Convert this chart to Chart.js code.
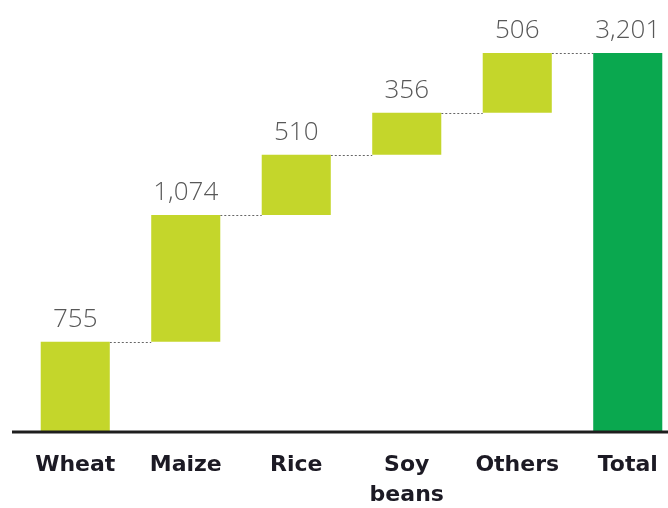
<!DOCTYPE html>
<html>
<head>
<meta charset="utf-8">
<script src="https://cdn.jsdelivr.net/npm/chart.js@4"></script>
<style>
  html, body { margin: 0; padding: 0; background: #fff; overflow: hidden; }
  #wrap { position: absolute; left: 0; top: 0; width: 684px; height: 508px; }
</style>
</head>
<body>
<div id="wrap"><canvas id="myChart"></canvas></div>
<script>
// data
const categories = [["Wheat"], ["Maize"], ["Rice"], ["Soy", "beans"], ["Others"], ["Total"]];
const values = [755, 1074, 510, 356, 506, 3201];
const isTotal = [false, false, false, false, false, true];

// floating bars: each step starts where the previous one ended
var running = 0;
var floating = values.map(function (v, i) {
  if (isTotal[i]) return [0, v];
  var seg = [running, running + v];
  running += v;
  return seg;
});

var stepColor = "#c4d62b";
var totalColor = "#0aa84f";

// value labels above bars
var valueLabels = {
  id: "valueLabels",
  afterDatasetsDraw: function (chart) {
    var ctx = chart.ctx;
    var meta = chart.getDatasetMeta(0);
    ctx.save();
    ctx.font = "300 26px 'Open Sans', 'Lato', sans-serif";
    ctx.fillStyle = "#585858";
    ctx.textAlign = "center";
    ctx.textBaseline = "alphabetic";
    meta.data.forEach(function (bar, i) {
      ctx.fillText(values[i].toLocaleString("en-US"), bar.x, bar.y - 15);
    });
    ctx.restore();
  },
};

// dotted connectors between bar tops + heavy baseline
var connectors = {
  id: "connectors",
  beforeDatasetsDraw: function (chart) {
    var ctx = chart.ctx;
    var meta = chart.getDatasetMeta(0);
    var y = chart.scales.y;
    ctx.save();
    ctx.strokeStyle = "#666666";
    ctx.lineWidth = 1;
    ctx.setLineDash([2, 2]);
    for (var i = 0; i < meta.data.length - 1; i++) {
      var a = meta.data[i], b = meta.data[i + 1];
      var py = Math.round(y.getPixelForValue(floating[i][1])) + 0.5;
      ctx.beginPath();
      ctx.moveTo(a.x + a.width / 2, py);
      ctx.lineTo(b.x - b.width / 2, py);
      ctx.stroke();
    }
    ctx.restore();
  },
  afterDatasetsDraw: function (chart) {
    var ctx = chart.ctx;
    var py = chart.scales.y.getPixelForValue(0) + 1;
    ctx.save();
    ctx.strokeStyle = "#1e1e1e";
    ctx.lineWidth = 3;
    ctx.beginPath();
    ctx.moveTo(12, py);
    ctx.lineTo(chart.width, py);
    ctx.stroke();
    ctx.restore();
  },
};

var ctx = document.getElementById("myChart").getContext("2d");
var myChart = new Chart(ctx, {
  type: "bar",
  data: {
    labels: categories,
    datasets: [
      {
        data: floating,
        backgroundColor: isTotal.map(function (t) { return t ? totalColor : stepColor; }),
        borderWidth: 0,
        borderSkipped: false,
        barPercentage: 0.625,
        categoryPercentage: 1,
      },
    ],
  },
  options: {
    responsive: true,
    maintainAspectRatio: false,
    animation: false,
    layout: { padding: { left: 20, right: 1, top: 0, bottom: 0 } },
    plugins: {
      legend: { display: false },
      tooltip: { enabled: false },
    },
    scales: {
      y: {
        display: false,
        min: 0,
        max: 3650,
      },
      x: {
        grid: { display: false, drawTicks: false },
        border: { display: false },
        ticks: {
          color: "#1c1a24",
          font: { family: "'DejaVu Sans', sans-serif", size: 22, weight: "bold", lineHeight: 1.36 },
          padding: 19,
          maxRotation: 0,
          autoSkip: false,
        },
        afterFit: function (scale) {
          scale.height = 77;
        },
      },
    },
  },
  plugins: [connectors, valueLabels],
});
</script>
</body>
</html>
